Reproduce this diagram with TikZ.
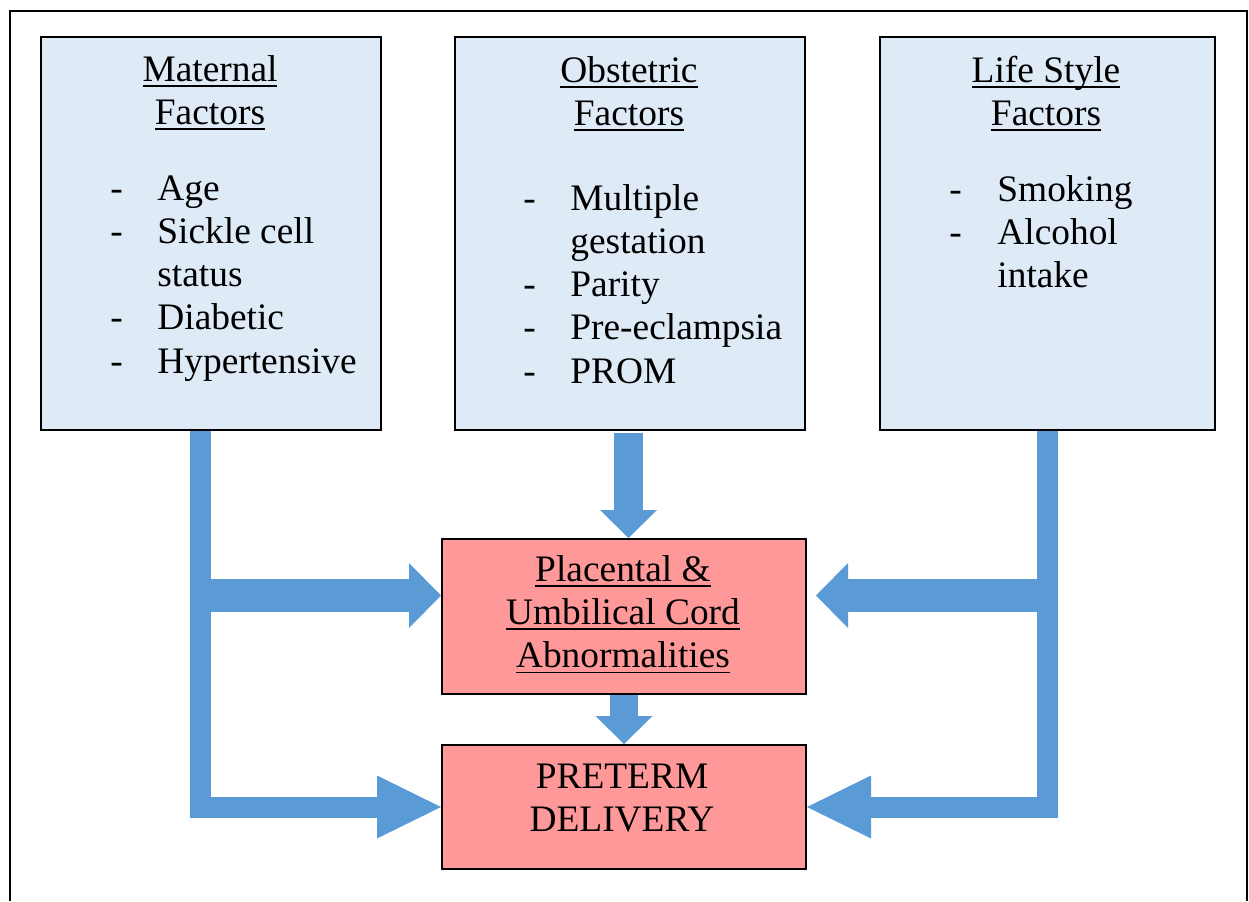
\documentclass[tikz,border=0pt]{standalone}
\usepackage{fontspec}
\setmainfont{Liberation Serif}
\usetikzlibrary{arrows.meta}
\definecolor{factorblue}{HTML}{DEEBF7}
\definecolor{outcomered}{HTML}{FF9999}
\definecolor{flowblue}{HTML}{5B9BD5}
\newsavebox{\ulbox}
\newcommand{\uword}[1]{\sbox{\ulbox}{#1}\rlap{\rule[-2.8pt]{\wd\ulbox}{0.8pt}}\usebox{\ulbox}}
\begin{document}
\begin{tikzpicture}[x=0.5pt,y=-0.5pt,
  every node/.style={font=\fontsize{18.7}{21.65}\selectfont},
  factorbox/.style={draw=black,line width=1pt,fill=factorblue,inner sep=0pt,anchor=north west},
  outcomebox/.style={draw=black,line width=1pt,fill=outcomered,inner sep=0pt,anchor=north west},
  boxtext/.style={inner sep=0pt,anchor=base},
  listtext/.style={inner sep=0pt,anchor=base west},
  flowline/.style={draw=flowblue,line width=10.5pt},
  widehead/.style={-{Triangle[width=32.5pt,length=16pt,line width=0pt,fill=flowblue]}},
  longhead/.style={-{Triangle[width=31.5pt,length=32pt,line width=0pt,fill=flowblue]}},
  downhead/.style={-{Triangle[width=28.5pt,length=14pt,line width=0pt,fill=flowblue]}}]
\useasboundingbox (0,0) rectangle (1249,901);
\draw[line width=1pt] (10,901) -- (10,11) -- (1247,11) -- (1247,901);
% factor boxes
\node[factorbox,minimum width=170pt,minimum height=196.5pt] (maternal) at (40,36) {};
\node[factorbox,minimum width=175pt,minimum height=196.5pt] (obstetric) at (454,36) {};
\node[factorbox,minimum width=167.5pt,minimum height=196.5pt] (lifestyle) at (879,36) {};
% outcome boxes
\node[outcomebox,minimum width=182pt,minimum height=77.5pt] (placental) at (441,538) {};
\node[outcomebox,minimum width=182pt,minimum height=62pt] (preterm) at (441,744) {};
% texts
\node[boxtext] (matTitle) at (210,81) {\begin{tabular}[t]{@{}c@{}}\uword{Maternal}\\\uword{Factors}\end{tabular}};
\node[boxtext] (obsTitle) at (629,82) {\begin{tabular}[t]{@{}c@{}}\uword{Obstetric}\\\uword{Factors}\end{tabular}};
\node[boxtext] (lifeTitle) at (1046,82) {\begin{tabular}[t]{@{}c@{}}\uword{Life Style}\\\uword{Factors}\end{tabular}};
\node[listtext] (matList) at (110,200) {\begin{tabular}[t]{@{}p{23.5pt}@{}l@{}}
  - & Age\\ - & Sickle cell\\ & status\\ - & Diabetic\\ - & Hypertensive\end{tabular}};
\node[listtext] (obsList) at (523,210) {\begin{tabular}[t]{@{}p{23.5pt}@{}l@{}}
  - & Multiple\\ & gestation\\ - & Parity\\ - & Pre-eclampsia\\ - & PROM\end{tabular}};
\node[listtext] (lifeList) at (949,201) {\begin{tabular}[t]{@{}p{24pt}@{}l@{}}
  - & Smoking\\ - & Alcohol\\ & intake\end{tabular}};
\node[boxtext] (placText) at (623,581) {\begin{tabular}[t]{@{}c@{}}\uword{Placental \&}\\\uword{Umbilical Cord}\\\uword{Abnormalities}\end{tabular}};
\node[boxtext] (pretText) at (622,788) {\begin{tabular}[t]{@{}c@{}}PRETERM\\DELIVERY\end{tabular}};
% flows
\coordinate (mleft) at ([xshift=-5.5pt]maternal.south);
\coordinate (ptopL) at ([yshift=10.5pt]placental.west);
\coordinate (ptopR) at ([xshift=4.5pt,yshift=10.5pt]placental.east);
\draw[flowline,longhead] (mleft) |- (preterm.west);
\draw[flowline,line width=16.5pt,widehead] (mleft |- ptopL) -- (ptopL);
\draw[flowline,longhead] (lifestyle.south) |- (preterm.east);
\draw[flowline,line width=16.5pt,widehead] (lifestyle.south |- ptopR) -- (ptopR);
\draw[flowline,line width=14.5pt,downhead] ([xshift=-0.75pt,yshift=-1pt]obstetric.south) -- ([xshift=-0.75pt]obstetric.south |- placental.north);
\draw[flowline,line width=14pt,downhead] (placental.south) -- (preterm.north);
\end{tikzpicture}
\end{document}
